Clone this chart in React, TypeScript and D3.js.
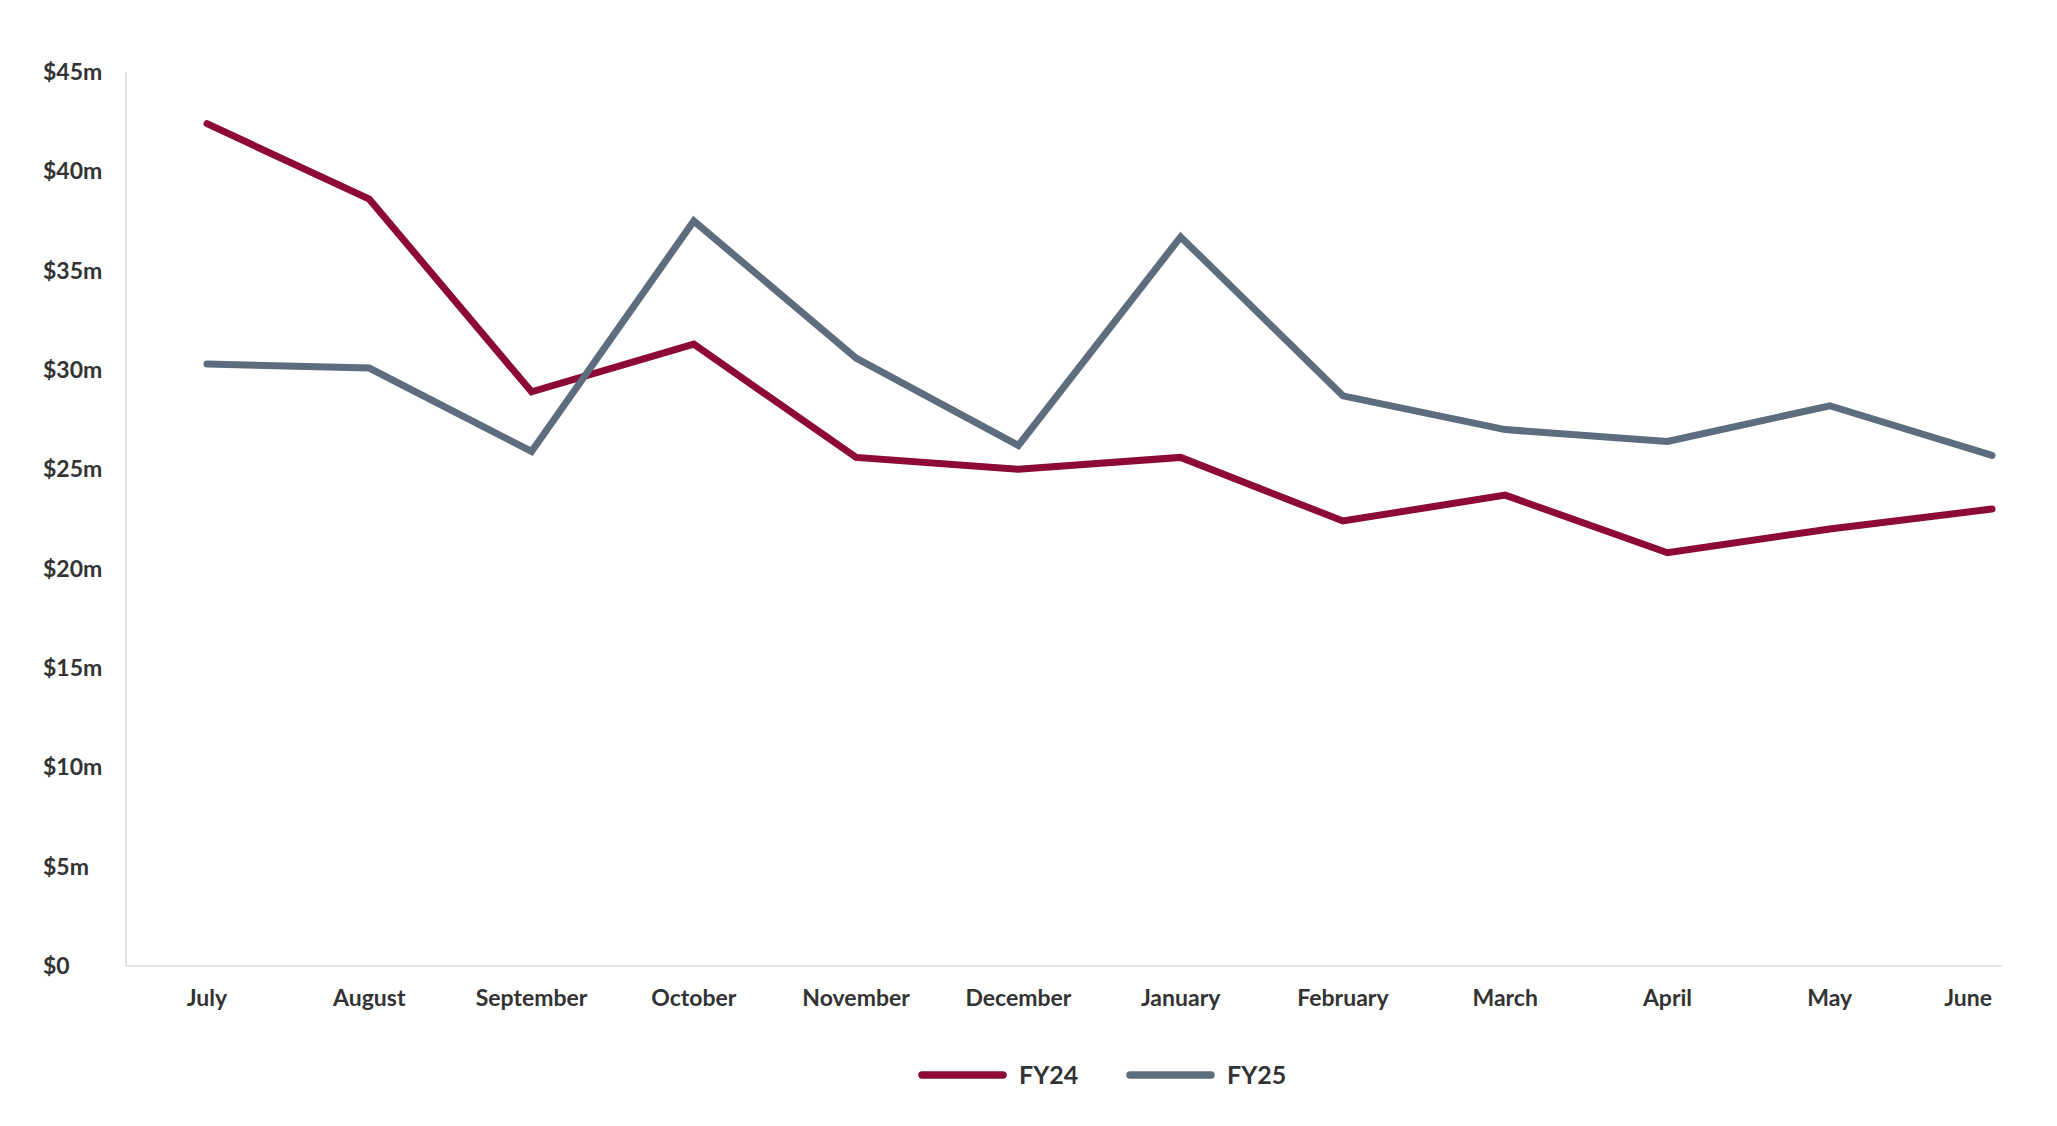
import { useRef, useEffect } from 'react';
import * as d3 from 'd3';

const WIDTH = 2057;
const HEIGHT = 1126;

const MONTHS = ['July', 'August', 'September', 'October', 'November', 'December', 'January', 'February', 'March', 'April', 'May', 'June'];
const FY24 = [42.4, 38.6, 28.9, 31.3, 25.6, 25.0, 25.6, 22.4, 23.7, 20.8, 22.0, 23.0];
const FY25 = [30.3, 30.1, 25.9, 37.5, 30.6, 26.2, 36.7, 28.7, 27.0, 26.4, 28.2, 25.7];
const Y_TICKS = [0, 5, 10, 15, 20, 25, 30, 35, 40, 45];

const SERIES = [
  { name: 'FY24', values: FY24, color: '#8c0a33' },
  { name: 'FY25', values: FY25, color: '#5d6d7e' },
];

const FONT = 'Lato, "Open Sans", sans-serif';
const TEXT_COLOR = '#333333';

function drawChart(svgEl: SVGSVGElement) {
  const svg = d3.select(svgEl);
  svg.selectAll('*').remove();

  const axisLeft = 126;
  const axisRight = 2002;
  const x = d3.scalePoint<string>().domain(MONTHS).range([207, 1992]);
  const y = d3.scaleLinear().domain([0, 45]).range([966, 72]);

  // axis lines
  svg.append('line')
    .attr('x1', axisLeft).attr('x2', axisLeft)
    .attr('y1', y(45)).attr('y2', y(0))
    .attr('stroke', '#e3e3e3').attr('stroke-width', 2);
  svg.append('line')
    .attr('x1', axisLeft).attr('x2', axisRight)
    .attr('y1', y(0)).attr('y2', y(0))
    .attr('stroke', '#e3e3e3').attr('stroke-width', 2);

  // y labels (left aligned)
  svg.append('g')
    .selectAll('text')
    .data(Y_TICKS)
    .join('text')
    .attr('x', 43)
    .attr('y', d => y(d))
    .attr('dy', '0.35em')
    .attr('text-anchor', 'start')
    .attr('font-family', FONT)
    .attr('font-weight', 700)
    .attr('font-size', 23)
    .attr('fill', TEXT_COLOR)
    .text(d => (d === 0 ? '$0' : `$${d}m`));

  // x labels
  svg.append('g')
    .selectAll('text')
    .data(MONTHS)
    .join('text')
    .attr('x', d => x(d) ?? 0)
    .attr('y', 998)
    .attr('dy', '0.35em')
    .attr('text-anchor', (_d, i) => (i === MONTHS.length - 1 ? 'end' : 'middle'))
    .attr('font-family', FONT)
    .attr('font-weight', 700)
    .attr('font-size', 23)
    .attr('fill', TEXT_COLOR)
    .text(d => d);

  const line = d3.line<number>()
    .x((_d, i) => x(MONTHS[i]) ?? 0)
    .y(d => y(d));

  SERIES.forEach(s => {
    svg.append('path')
      .datum(s.values)
      .attr('d', line)
      .attr('fill', 'none')
      .attr('stroke', s.color)
      .attr('stroke-width', 7)
      .attr('stroke-linecap', 'round')
      .attr('stroke-linejoin', 'miter');
  });

  // legend
  const legend = svg.append('g').attr('transform', 'translate(922, 1075)');
  const legendX = [0, 208];
  SERIES.forEach((s, i) => {
    const g = legend.append('g').attr('transform', `translate(${legendX[i]}, 0)`);
    g.append('line')
      .attr('x1', 0).attr('x2', 81)
      .attr('stroke', s.color)
      .attr('stroke-width', 7.5)
      .attr('stroke-linecap', 'round');
    g.append('text')
      .attr('x', 97)
      .attr('dy', '0.35em')
      .attr('font-family', FONT)
      .attr('font-weight', 700)
      .attr('font-size', 25)
      .attr('fill', TEXT_COLOR)
      .text(s.name);
  });
}

export default function App() {
  const svgRef = useRef<SVGSVGElement>(null);

  useEffect(() => {
    if (svgRef.current) drawChart(svgRef.current);
  }, []);

  return (
    <div style={{ position: 'absolute', left: 0, top: 0, width: WIDTH, height: HEIGHT, background: '#fff' }}>
      <svg ref={svgRef} width={WIDTH} height={HEIGHT} style={{ display: 'block' }} />
    </div>
  );
}
